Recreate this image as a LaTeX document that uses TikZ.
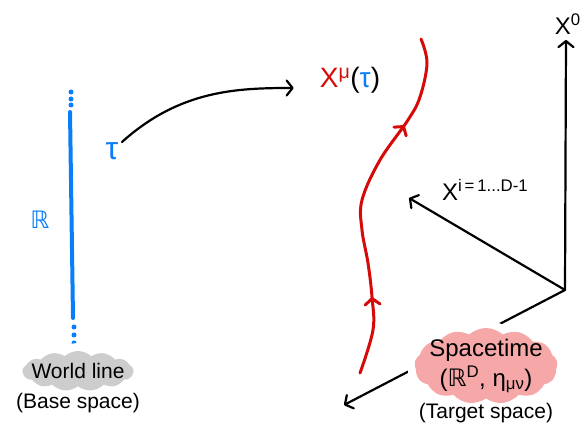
\documentclass[tikz,border=0pt]{standalone}
\usepackage{fontspec}
\setmainfont{Liberation Sans}
\newfontfamily\dejafont{DejaVu Sans}
\usetikzlibrary{arrows.meta,calc,shapes.symbols,decorations.markings}

\definecolor{wlblue}{RGB}{10,125,250}
\definecolor{embred}{RGB}{215,10,10}
\definecolor{blobpink}{RGB}{246,168,168}
\definecolor{blobgray}{RGB}{205,205,205}

\begin{document}
\begin{tikzpicture}[
  x=1pt, y=-1pt,
  barb/.tip     ={Straight Barb[length=6pt,width=15pt,line cap=round,line join=round]},
  axis/.style   ={draw,-{barb},line width=2.2pt,line cap=round},
  conn/.style   ={draw,-{barb},line width=2.2pt,line cap=round},
  wline/.style  ={draw=wlblue,line width=4pt,line cap=round},
  wdot/.style   ={circle,fill=wlblue,inner sep=0,minimum size=5pt},
  emb/.style    ={draw=embred,line width=3pt,line cap=round,
                  postaction={decorate},
                  decoration={markings,
                    mark=at position 0.22 with {\arrow[embred]{barb}},
                    mark=at position 0.74 with {\arrow[embred]{barb}}}},
  blob/.style   ={cloud,cloud puffs=13,cloud puff arc=85,inner sep=0,
                  preaction={draw=white,line width=16pt}},
  lbl/.style    ={inner sep=2pt,align=center},
  big/.style    ={font=\fontsize{24}{30}\selectfont},
  mid/.style    ={font=\fontsize{21}{24}\selectfont},
]
\useasboundingbox (0,0) rectangle (582,438);
\clip (0,0) rectangle (582,438);

% ------------------------------------------------------------ world line (base)
\coordinate (wltop) at (70,112);
\coordinate (wlbot) at (73,318);
\draw[wline] (wltop) -- (wlbot);
\foreach \y [count=\k] in {92,99,105} {
  \node[wdot] (dt\k) at (71,\y) {};
}
\foreach \y [count=\k] in {327,335,343} {
  \node[wdot] (db\k) at (74,\y) {};
}
\node[lbl,font=\dejafont\fontsize{24}{26}\selectfont,text=wlblue] (reals) at (40,220) {ℝ};
\node[lbl,font=\fontsize{32}{34}\selectfont,text=wlblue] (tau) at (112,151) {τ};

\node[blob,fill=blobgray,minimum width=111pt,minimum height=40pt] (wlblob) at (78,371) {};
\node[lbl,mid] (wltext) at (wlblob) {World line};
\node[lbl,mid,anchor=north] (basetext) at ([yshift=-5pt]wlblob.south) {(Base space)};

% ------------------------------------------------------------ map tau -> X(tau)
\node[lbl,font=\fontsize{28}{30}\selectfont] (xmu) at (350,80)
  {\textcolor{embred}{X\textsuperscript{μ}}(\textcolor{wlblue}{τ})};
\draw[conn,shorten <=2pt,shorten >=24pt] (tau) to[out=42,in=180] ([yshift=-8pt]xmu.west);

% ------------------------------------------------------------ embedded curve
\draw[emb] plot[smooth,tension=0.6] coordinates {
  (360,373) (373,330) (372,297) (368,263) (362,230) (362,200)
  (380,160) (408,120) (420,97) (427,63) (421,39)};

% ------------------------------------------------------------ target axes
\coordinate (orig) at (565,290);
\coordinate (x0tip) at (566,40);
\coordinate (xitip) at (409,198);
\coordinate (xdtip) at (344,405);
\draw[axis] (orig) -- (x0tip);
\draw[axis] (orig) -- (xitip);
\draw[axis] (orig) -- (xdtip);
\node[lbl,big,anchor=east] (x0lab) at (583,24) {X\textsuperscript{0}};
\node[lbl,big,anchor=west] (xilab) at (440,190) {X\textsuperscript{i\,=\,1...D-1}};

% blob drawn over the third axis, leaving a white gap round it
\node[blob,fill=blobpink,minimum width=143pt,minimum height=76pt] (stblob) at (486,366) {};
\node[lbl,big] (sttext) at (stblob)
  {Spacetime\\({\dejafont ℝ}\textsuperscript{D}, η\textsubscript{μν})};
\node[lbl,mid,anchor=north] (targettext) at ([yshift=-2pt]stblob.south) {(Target space)};

\end{tikzpicture}
\end{document}
